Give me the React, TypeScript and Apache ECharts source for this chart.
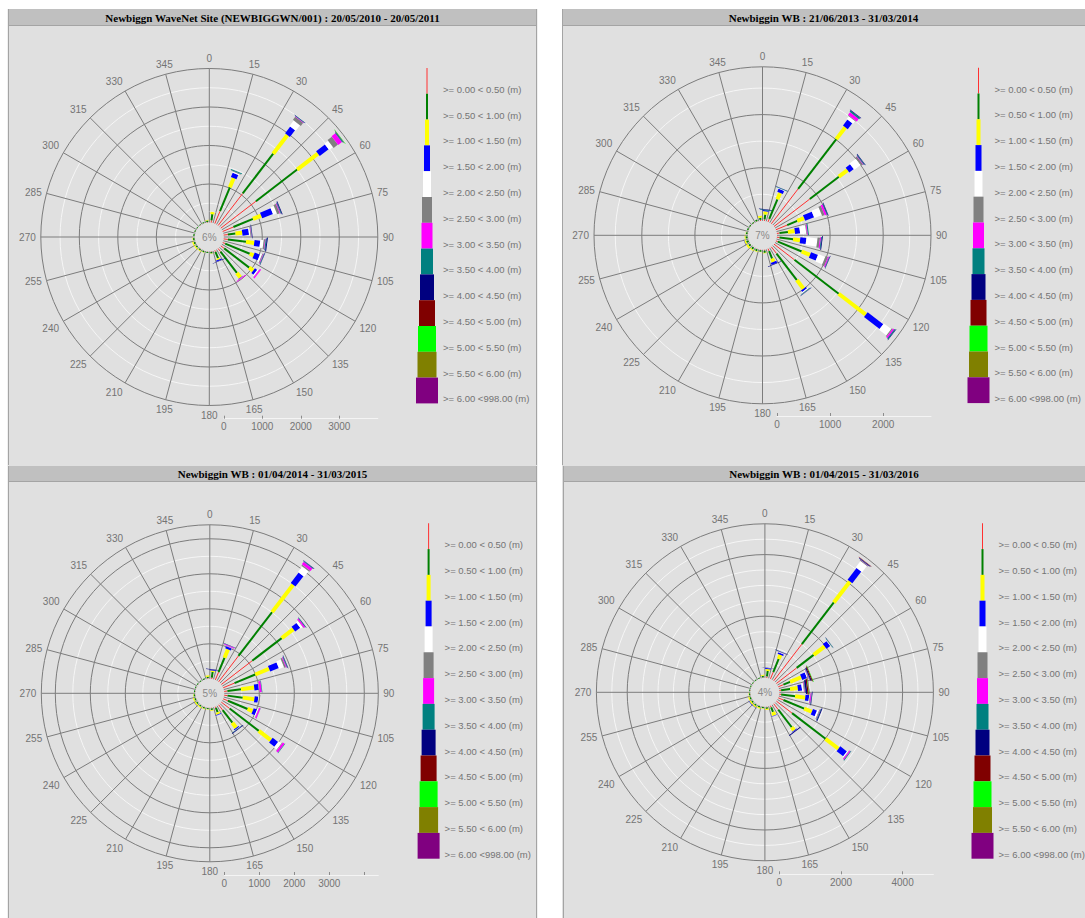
import React, { useEffect, useRef } from "react";
import * as echarts from "echarts";

const TITLES = [
  "Newbiggn WaveNet Site (NEWBIGGWN/001) : 20/05/2010 - 20/05/2011",
  "Newbiggin WB : 21/06/2013 - 31/03/2014",
  "Newbiggin WB : 01/04/2014 - 31/03/2015",
  "Newbiggin WB : 01/04/2015 - 31/03/2016",
];
const CALM_LABELS = ["6%", "7%", "5%", "4%"];
const RADIAL_MAX = [4000, 2900, 4400, 5000];
const RADIAL_MAJOR = [1000, 1000, 1000, 2000];
const RADIAL_MINOR = 500;

const DIRECTIONS = [
  7.5, 22.5, 37.5, 52.5, 67.5, 82.5, 97.5, 112.5, 127.5, 142.5, 157.5, 172.5,
  187.5, 202.5, 217.5, 232.5, 247.5, 262.5, 277.5, 292.5, 307.5, 322.5, 337.5, 352.5,
];

const BAND_LABELS = [
  ">= 0.00 < 0.50 (m)", ">= 0.50 < 1.00 (m)", ">= 1.00 < 1.50 (m)", ">= 1.50 < 2.00 (m)",
  ">= 2.00 < 2.50 (m)", ">= 2.50 < 3.00 (m)", ">= 3.00 < 3.50 (m)", ">= 3.50 < 4.00 (m)",
  ">= 4.00 < 4.50 (m)", ">= 4.50 < 5.00 (m)", ">= 5.00 < 5.50 (m)", ">= 5.50 < 6.00 (m)",
  ">= 6.00 <998.00 (m)",
];
const BAND_COLORS = [
  "#ff3030", "#008000", "#ffff00", "#0000ff", "#ffffff", "#808080", "#ff00ff",
  "#008080", "#000080", "#800000", "#00ff00", "#808000", "#800080",
];
const BAND_WIDTHS = [1, 2, 4, 6, 8, 10, 11, 12, 14, 16, 18, 19, 22];

// counts per direction (rows follow DIRECTIONS), columns follow the bands
const P1_COUNTS = [
  [60, 160, 60, 0, 5],
  [350, 670, 260, 120, 30, 20, 0, 20],
  [1050, 1300, 610, 220, 180, 100, 15, 15, 5],
  [1150, 1350, 680, 290, 125, 140, 125, 20, 10, 5, 10],
  [300, 550, 230, 300, 100, 70, 20, 20, 20],
  [110, 200, 175, 170, 35, 20, 10, 10, 10],
  [110, 475, 215, 150, 85, 35, 15, 25, 25],
  [70, 690, 110, 145, 50, 20, 15, 15, 10],
  [110, 820, 130, 70, 35, 10, 35],
  [100, 700, 150, 10, 5, 5, 20],
  [40, 180, 40, 30, 0, 0, 0, 0, 10],
  [15, 40, 10],
  [10, 30],
  [10, 35, 10],
  [10, 35, 20],
  [10, 40, 30],
  [10, 45, 30],
  [10, 40, 10],
  [10, 30],
  [10, 25],
  [10, 20],
  [10, 20],
  [10, 25],
  [15, 40, 15],
];
const P2_COUNTS = [
  [30, 90, 60, 20, 0, 0, 0, 10, 10],
  [60, 400, 130, 65, 10, 0, 0, 10, 5],
  [830, 1180, 280, 140, 65, 15, 60, 30, 10],
  [850, 690, 205, 105, 150, 40, 10, 15, 10],
  [230, 205, 140, 180, 150, 50, 40, 15, 10],
  [50, 160, 130, 95, 115, 12, 15, 18],
  [50, 260, 130, 115, 207, 45, 20, 15, 15],
  [40, 485, 170, 140, 140, 48, 20, 10, 7],
  [485, 1050, 645, 370, 175, 20, 30, 20, 10],
  [160, 630, 205, 35, 20, 5, 0, 10, 7],
  [50, 150, 70, 40, 0, 0, 0, 0, 10],
  [20, 40, 10],
  [10, 30, 5],
  [10, 35, 10],
  [10, 40, 20],
  [10, 40, 35],
  [10, 45, 30, 5],
  [10, 40, 15],
  [10, 30, 5],
  [10, 25],
  [10, 20],
  [10, 20],
  [10, 30],
  [20, 40, 35],
];
const P3_COUNTS = [
  [40, 160, 40, 20, 0, 0, 0, 0, 15],
  [240, 445, 260, 65, 10, 10, 25, 5, 10],
  [930, 1580, 985, 375, 200, 40, 90, 20, 10],
  [1115, 1060, 420, 180, 70, 10, 45, 15, 5],
  [350, 640, 430, 265, 145, 50, 25, 20, 10],
  [95, 390, 380, 125, 10, 5, 60, 15],
  [95, 440, 335, 105, 20, 30],
  [145, 610, 155, 100, 30, 10, 40, 5],
  [300, 1050, 435, 195, 100, 20, 60, 15],
  [190, 455, 180, 35, 10, 0, 0, 10, 20],
  [40, 130, 60, 20, 5],
  [20, 45, 20],
  [10, 35, 10],
  [10, 40, 15],
  [10, 40, 30],
  [10, 45, 40, 5],
  [10, 45, 30],
  [10, 40, 10],
  [10, 30],
  [10, 25],
  [10, 25],
  [10, 25],
  [10, 30],
  [20, 45, 35],
];
const P4_COUNTS = [
  [50, 180, 60, 30, 5, 0, 0, 0, 5],
  [240, 460, 145, 55, 15, 5, 10, 10, 10],
  [1500, 1705, 860, 480, 255, 25, 10, 10, 20, 15],
  [830, 695, 450, 155, 20, 10, 0, 15, 5],
  [180, 235, 390, 165, 30, 15, 15, 15, 35, 30, 15],
  [60, 295, 250, 130, 55, 20, 15, 20, 50, 40, 15, 10, 10],
  [60, 460, 330, 120, 20, 20, 30, 15, 13],
  [180, 730, 270, 140, 58, 22, 10, 20, 30],
  [640, 1370, 530, 270, 40, 10, 40, 20],
  [240, 720, 125, 25, 5, 0, 0, 0, 25],
  [60, 160, 120, 15, 5],
  [20, 50, 30],
  [10, 40, 10],
  [10, 45, 30],
  [10, 50, 45, 10],
  [10, 50, 50, 15],
  [10, 50, 35],
  [10, 40, 10],
  [10, 30],
  [10, 30],
  [10, 25],
  [10, 25],
  [10, 30],
  [20, 50, 30],
];
const ALL_COUNTS = [P1_COUNTS, P2_COUNTS, P3_COUNTS, P4_COUNTS];

// ---------- layout (pixels) ----------
const W = 1085;
const H = 918;
const INNER_R = 14.5;
const OUTER_R = 168.5;
const LEG_SEG = 25.8;
const LAYOUT = [
  { x: 8, y: 9, w: 529, h: 456, th: 17, cx: 209.3, cy: 237, legX: 427, legY: 68, scaleY: 418.7 },
  { x: 562, y: 9, w: 523, h: 456, th: 17, cx: 762.5, cy: 235.3, legX: 978.5, legY: 67.7, scaleY: 416 },
  { x: 8, y: 466, w: 529, h: 452, th: 16, cx: 209.8, cy: 693.3, legX: 428.6, legY: 523.3, scaleY: 875 },
  { x: 563, y: 466, w: 522, h: 452, th: 16, cx: 764.9, cy: 692.3, legX: 982.5, legY: 523.3, scaleY: 874.3 },
];

const GRID_DARK = "#7c7c7c";
const GRID_LIGHT = "#f6f6f6";
const TEXT_GRAY = "#747474";
const SANS = "'Liberation Sans', Arial, sans-serif";
const SERIF = "'Liberation Serif', 'Times New Roman', serif";

function buildSegments(counts: number[][]) {
  const out: number[][] = [];
  counts.forEach((row, d) => {
    let acc = 0;
    row.forEach((v, b) => {
      if (v > 0) {
        out.push([acc, acc + v, DIRECTIONS[d], b]);
        acc += v;
      }
    });
  });
  return out;
}

function ringColors(max: number, major: number) {
  const cols: string[] = [];
  for (let v = 0; v < max; v += RADIAL_MINOR) {
    if (v === 0) cols.push("rgba(0,0,0,0)");
    else if (v % major === 0) cols.push(GRID_DARK);
    else cols.push(GRID_LIGHT);
  }
  cols.push(GRID_DARK);
  return cols;
}

function buildOption() {
  const graphic: any[] = [];
  // white page gaps
  graphic.push({ type: "rect", shape: { x: 0, y: 0, width: W, height: 9 }, style: { fill: "#ffffff" } });
  graphic.push({ type: "rect", shape: { x: 0, y: 0, width: 7.5, height: H }, style: { fill: "#ffffff" } });
  graphic.push({ type: "rect", shape: { x: 537.5, y: 0, width: 24.5, height: H }, style: { fill: "#ffffff" } });

  LAYOUT.forEach((L, i) => {
    graphic.push({ type: "rect", shape: { x: L.x, y: L.y, width: L.w, height: L.th }, style: { fill: "#c0c0c0" } });
    graphic.push({ type: "line", shape: { x1: L.x, y1: L.y + L.th - 0.5, x2: L.x + L.w, y2: L.y + L.th - 0.5 }, style: { stroke: "#a4a4a4", lineWidth: 1 } });
    graphic.push({ type: "line", shape: { x1: L.x + 0.5, y1: L.y, x2: L.x + 0.5, y2: L.y + L.h }, style: { stroke: "#a4a4a4", lineWidth: 1 } });
    if (L.x + L.w < W - 2) {
      graphic.push({ type: "line", shape: { x1: L.x + L.w - 0.5, y1: L.y, x2: L.x + L.w - 0.5, y2: L.y + L.h }, style: { stroke: "#a4a4a4", lineWidth: 1 } });
    }
    graphic.push({
      type: "text",
      x: L.x + L.w / 2,
      y: L.y + L.th / 2,
      style: {
        text: TITLES[i], fill: "#000000", fontSize: 11, fontWeight: "bold", fontFamily: SERIF,
        textAlign: "center", textVerticalAlign: "middle", verticalAlign: "middle",
      },
    });
    graphic.push({
      type: "text",
      x: L.cx,
      y: L.cy,
      style: {
        text: CALM_LABELS[i], fill: "#8a8a8a", fontSize: 10, fontFamily: SANS,
        textAlign: "center", textVerticalAlign: "middle", verticalAlign: "middle",
      },
    });
    BAND_LABELS.forEach((lab, b) => {
      const w = BAND_WIDTHS[b];
      graphic.push({
        type: "rect",
        shape: { x: L.legX - w / 2, y: L.legY + b * LEG_SEG, width: w, height: LEG_SEG },
        style: { fill: BAND_COLORS[b] },
      });
      graphic.push({
        type: "text",
        x: L.legX + 16,
        y: L.legY + (b + 1) * LEG_SEG - 4.5,
        style: {
          text: lab, fill: TEXT_GRAY, fontSize: 9.5, fontFamily: SANS,
          textAlign: "left", textVerticalAlign: "middle", verticalAlign: "middle",
        },
      });
    });
  });

  const option: any = {
    animation: false,
    backgroundColor: "#e0e0e0",
    polar: LAYOUT.map((L) => ({ center: [L.cx, L.cy], radius: [INNER_R, OUTER_R] })),
    angleAxis: LAYOUT.map((L, i) => ({
      polarIndex: i,
      type: "value",
      min: 0,
      max: 360,
      interval: 15,
      startAngle: 90,
      clockwise: true,
      axisLine: { show: false },
      axisTick: { show: false },
      axisLabel: {
        show: true, color: TEXT_GRAY, fontSize: 10, fontFamily: SANS, margin: 5,
        formatter: (v: number) => (v >= 360 ? "" : String(v)),
      },
      splitLine: { show: true, lineStyle: { color: GRID_DARK, width: 1 } },
    })),
    radiusAxis: LAYOUT.map((L, i) => ({
      polarIndex: i,
      type: "value",
      min: 0,
      max: RADIAL_MAX[i],
      interval: RADIAL_MINOR,
      axisLine: { show: false },
      axisTick: { show: false },
      axisLabel: { show: false },
      splitLine: { show: true, lineStyle: { color: ringColors(RADIAL_MAX[i], RADIAL_MAJOR[i]), width: 1 } },
    })),
    grid: LAYOUT.map((L) => ({
      left: L.cx + INNER_R,
      top: L.scaleY - 10,
      width: OUTER_R - INNER_R,
      height: 10,
      containLabel: false,
    })),
    xAxis: LAYOUT.map((L, i) => ({
      gridIndex: i,
      type: "value",
      min: 0,
      max: RADIAL_MAX[i],
      interval: RADIAL_MAJOR[i],
      position: "bottom",
      axisLine: { show: true, lineStyle: { color: "#f4f4f4", width: 1 } },
      axisTick: { show: true, inside: true, length: 3, lineStyle: { color: "#8c8c8c" } },
      axisLabel: {
        color: TEXT_GRAY, fontSize: 10, fontFamily: SANS, margin: 3, showMaxLabel: false,
        formatter: (v: number) => (v > RADIAL_MAX[i] - RADIAL_MAJOR[i] / 2 ? "" : String(v)),
      },
      splitLine: { show: false },
    })),
    yAxis: LAYOUT.map((L, i) => ({ gridIndex: i, type: "value", show: false, min: 0, max: 1 })),
    series: ALL_COUNTS.map((counts, i) => ({
      type: "custom",
      coordinateSystem: "polar",
      polarIndex: i,
      silent: true,
      data: buildSegments(counts),
      renderItem: (params: any, api: any) => {
        const r0 = api.value(0);
        const r1 = api.value(1);
        const a = api.value(2);
        const b = api.value(3);
        const p0 = api.coord([r0, a]);
        const p1 = api.coord([r1, a]);
        return {
          type: "line",
          shape: { x1: p0[0], y1: p0[1], x2: p1[0], y2: p1[1] },
          style: { stroke: BAND_COLORS[b], lineWidth: BAND_WIDTHS[b], lineCap: "butt" },
        };
      },
    })),
    graphic,
  };
  return option;
}

export default function App() {
  const ref = useRef<HTMLDivElement>(null);
  useEffect(() => {
    document.body.style.margin = "0";
    if (!ref.current) return;
    const chart = echarts.init(ref.current, undefined, { renderer: "svg" });
    chart.setOption(buildOption());
    return () => chart.dispose();
  }, []);
  return <div ref={ref} style={{ width: W, height: H }} />;
}
